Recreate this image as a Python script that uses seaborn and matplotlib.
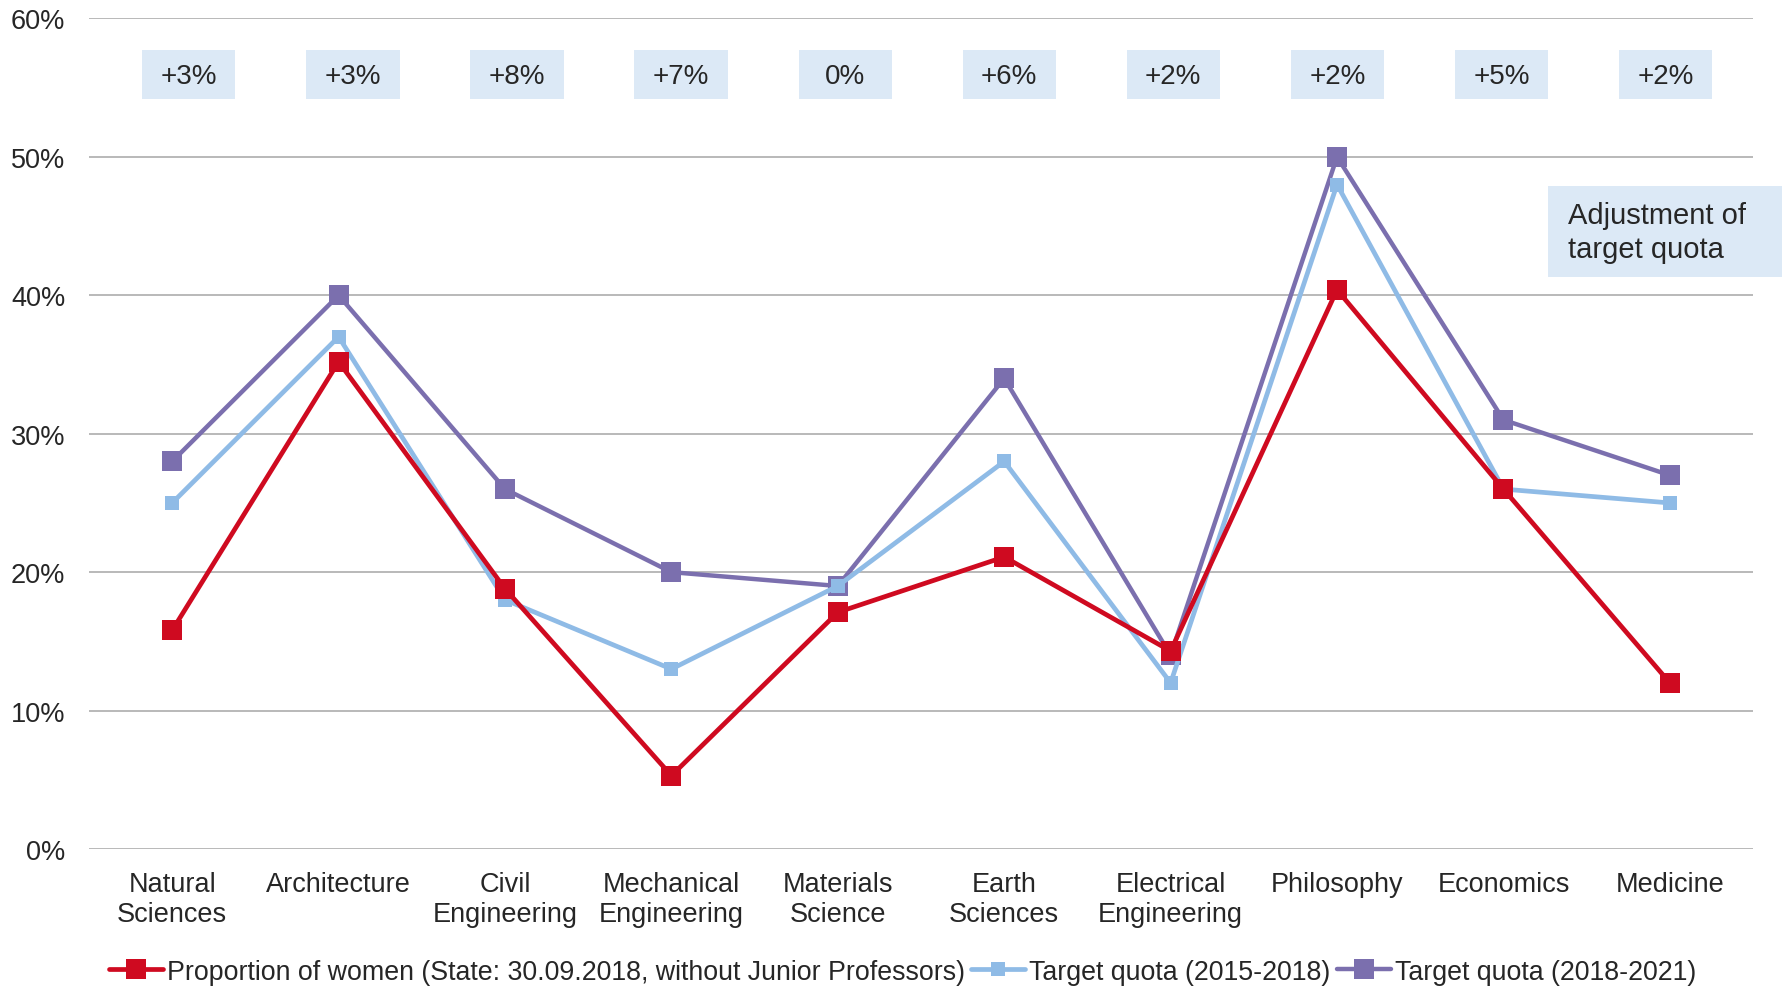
import numpy as np
import pandas as pd
import matplotlib.pyplot as plt
import seaborn as sns
from matplotlib.patches import Rectangle

# -------------------------------
# Data
# -------------------------------
categories = ["Natural\nSciences", "Architecture", "Civil\nEngineering",
              "Mechanical\nEngineering", "Materials\nScience", "Earth\nSciences",
              "Electrical\nEngineering", "Philosophy", "Economics", "Medicine"]
women_share = [15.8, 35.2, 18.8, 5.3, 17.1, 21.1, 14.3, 40.4, 26.0, 12.0]
quota_2015 = [25, 37, 18, 13, 19, 28, 12, 48, 26, 25]
quota_2018 = [28, 40, 26, 20, 19, 34, 14, 50, 31, 27]
adjustments = ["+3%", "+3%", "+8%", "+7%", "0%", "+6%", "+2%", "+2%", "+5%", "+2%"]
y_ticks = [0, 10, 20, 30, 40, 50, 60]

series_names = ["Proportion of women (State: 30.09.2018, without Junior Professors)",
                "Target quota (2015-2018)",
                "Target quota (2018-2021)"]
colors = ["#CF0A20", "#8FBBE6", "#7B6FAE"]

x_idx = np.arange(len(categories))
df = pd.DataFrame({
    "x": np.tile(x_idx, 3),
    "value": women_share + quota_2015 + quota_2018,
    "series": np.repeat(series_names, len(categories)),
})

# -------------------------------
# Figure
# -------------------------------
sns.set_theme(style="white")
plt.rcParams["font.family"] = ["Liberation Sans", "DejaVu Sans"]

fig = plt.figure(figsize=(17.87, 9.87), dpi=100)
ax = fig.add_axes([0.0498, 0.1388, 0.9312, 0.8415])

styles = {
    series_names[0]: dict(lw=3.4, ms=14),
    series_names[1]: dict(lw=3.4, ms=10),
    series_names[2]: dict(lw=3.2, ms=14),
}
# draw in reverse so red stays on top
for name, col in zip(series_names[::-1], colors[::-1]):
    sub = df[df["series"] == name]
    sns.lineplot(data=sub, x="x", y="value", color=col, marker="s",
                 linewidth=styles[name]["lw"], markersize=styles[name]["ms"],
                 markeredgewidth=0, label=name, ax=ax)

ax.set_xlim(-0.5, 9.5)
ax.set_ylim(0, 60)
ax.set_yticks(y_ticks)
ax.set_yticklabels([f"{t}%" for t in y_ticks], fontsize=19.5)
ax.set_xticks(x_idx)
ax.set_xticklabels(categories, fontsize=19.5, linespacing=1.2)
ax.tick_params(axis="y", length=0, pad=17)
ax.tick_params(axis="x", length=0, pad=16)
ax.set_xlabel("")
ax.set_ylabel("")
ax.grid(axis="y", color="#A6A6A6", linewidth=1.1)
ax.set_axisbelow(True)
for s in ax.spines.values():
    s.set_visible(False)

# adjustment boxes at the top
box_w, box_lo, box_hi = 0.56, 54.2, 57.7
for i, txt in enumerate(adjustments):
    xc = i * 0.986 + 0.10
    ax.add_patch(Rectangle((xc - box_w / 2, box_lo), box_w, box_hi - box_lo,
                           fc="#DCE9F6", ec="none", zorder=1))
    ax.text(xc, (box_lo + box_hi) / 2 - 0.1, txt, ha="center", va="center",
            fontsize=20, zorder=2)

fig.patches.append(Rectangle((1548 / 1787, 1 - 278 / 987), 234 / 1787, 91 / 987,
                             transform=fig.transFigure, fc="#DCE9F6", ec="none"))
fig.text(1568 / 1787, 1 - 233 / 987, "Adjustment of\ntarget quota", ha="left",
         va="center", fontsize=21, linespacing=1.25)

# legend
handles, labels = ax.get_legend_handles_labels()
handles, labels = handles[::-1], labels[::-1]
ax.legend(handles, labels, loc="center", bbox_to_anchor=(0.505, 0.0145),
          bbox_transform=fig.transFigure, ncol=3, frameon=False, fontsize=19.3,
          handlelength=2.0, handletextpad=0.15, columnspacing=0.25, borderaxespad=0)

plt.savefig("out.png", dpi=100)
plt.close()
